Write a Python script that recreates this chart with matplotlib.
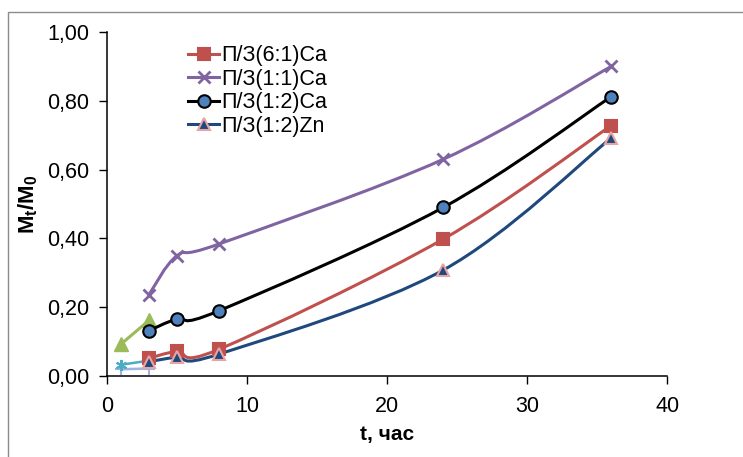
import matplotlib.pyplot as plt
import numpy as np
from matplotlib.path import Path
from matplotlib.patches import PathPatch, Rectangle

plt.rcParams['font.family'] = ['Liberation Sans', 'DejaVu Sans']
plt.rcParams['mathtext.fontset'] = 'custom'
plt.rcParams['mathtext.rm'] = 'Liberation Sans'
plt.rcParams['mathtext.bf'] = 'Liberation Sans:bold'

# data
t_main = [3, 5, 8, 24, 36]
ca61 = [0.052, 0.072, 0.078, 0.398, 0.728]
ca11 = [0.237, 0.350, 0.384, 0.630, 0.900]
ca12 = [0.132, 0.166, 0.190, 0.490, 0.812]
zn12 = [0.042, 0.055, 0.064, 0.308, 0.692]

t_short = [1, 3]
green = [0.093, 0.162]
aqua = [0.033, 0.045]
lav = [0.020, 0.022]

labels = ['П/З(6:1)Ca', 'П/З(1:1)Ca', 'П/З(1:2)Ca', 'П/З(1:2)Zn']


def smooth(ax, x, y, color, lw, z):
    # Excel-style smoothed line: cubic Bezier through the points
    x = np.asarray(x, float)
    y = np.asarray(y, float)
    n = len(x)
    verts = [(x[0], y[0])]
    codes = [Path.MOVETO]
    for i in range(n - 1):
        i0 = max(i - 1, 0)
        i3 = min(i + 2, n - 1)
        c1 = (x[i] + (x[i + 1] - x[i0]) / 6, y[i] + (y[i + 1] - y[i0]) / 6)
        c2 = (x[i + 1] - (x[i3] - x[i]) / 6, y[i + 1] - (y[i3] - y[i]) / 6)
        verts += [c1, c2, (x[i + 1], y[i + 1])]
        codes += [Path.CURVE4] * 3
    ax.add_patch(PathPatch(Path(verts, codes), fc='none', ec=color, lw=lw,
                           zorder=z, capstyle='round', joinstyle='round'))


fig = plt.figure(figsize=(7.43, 4.57), dpi=100)
ax = fig.add_axes([0.144, 0.177, 0.754, 0.753])

fig.patches.append(Rectangle((8 / 743, -0.1), 1.2, 1.1 - 12 / 457,
                             transform=fig.transFigure, fc='none',
                             ec='#8c8c8c', lw=1.0))

fs = 15.5
lw = 2.2
# small series without legend entries
smooth(ax, t_short, lav, '#9db3e0', 1.8, 2)
ax.plot(t_short, lav, ls='none', marker='+', ms=8, mew=1.5, color='#9db3e0', zorder=3)
smooth(ax, t_short, aqua, '#4bacc6', 1.8, 2)
ax.plot(t_short[:1], aqua[:1], ls='none', marker=(6, 2, 0), ms=8, mew=1.5, color='#4bacc6', zorder=3)
smooth(ax, t_short, green, '#9bbb59', lw, 2)
ax.plot(t_short, green, ls='none', marker='^', ms=10, color='#9bbb59', mec='#9bbb59', zorder=3)

series = [
    (ca61, '#c0504d', 's', '#c0504d', '#c0504d', 8),
    (ca11, '#8064a2', 'x', '#8064a2', '#8064a2', 9),
    (ca12, '#000000', 'o', '#4f81bd', '#000000', 9),
    (zn12, '#1f497d', '^', '#1f497d', '#e6a5a4', 8),
]
handles = []
for (y, c, m, fc, ec, ms), lab in zip(series, labels):
    smooth(ax, t_main, y, c, lw, 4)
    ax.plot(t_main, y, ls='none', marker=m, ms=ms, mfc=fc, mec=ec,
            mew=1.5 if m != 'x' else 2, zorder=5)
    hl, = ax.plot([], [], color=c, lw=lw, marker=m, ms=ms, mfc=fc, mec=ec,
                  mew=1.5 if m != 'x' else 2)
    handles.append(hl)

ax.set_xlim(0, 40)
ax.set_ylim(0, 1.0)
ax.set_xticks([0, 10, 20, 30, 40])
yt = np.arange(0, 1.01, 0.2)
ax.set_yticks(yt)
ax.set_yticklabels([f'{v:.2f}'.replace('.', ',') for v in yt])
ax.tick_params(direction='out', length=6, width=1, labelsize=fs)
ax.tick_params(axis='x', pad=8)
ax.tick_params(axis='y', pad=7)
for s in ['top', 'right']:
    ax.spines[s].set_visible(False)
for s in ['left', 'bottom']:
    ax.spines[s].set_linewidth(1.1)

ax.set_xlabel('t, час', fontsize=15, fontweight='bold', labelpad=6)
ax.set_ylabel(r'$\mathbf{M_t/M_0}$', fontsize=16, labelpad=5)

ax.legend(handles, labels, loc='upper left', bbox_to_anchor=(0.145, 0.962),
          frameon=False, fontsize=fs, handlelength=1.45, handletextpad=0.1,
          labelspacing=0.12, borderaxespad=0, borderpad=0)

fig.savefig('out.png', dpi=100)
